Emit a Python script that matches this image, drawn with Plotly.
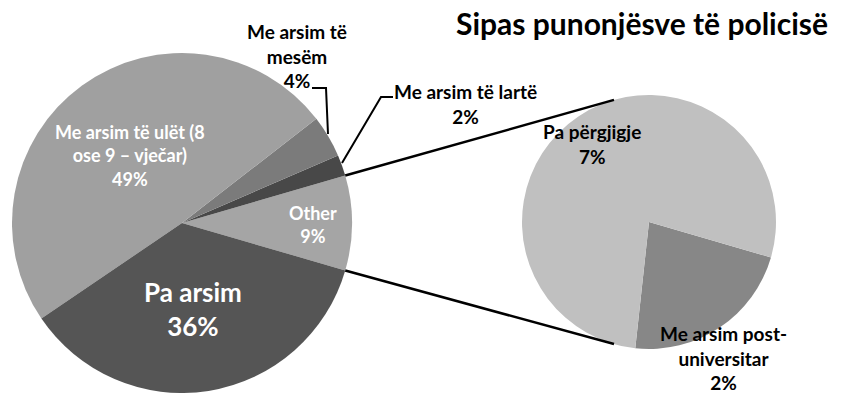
import math
import plotly.graph_objects as go

# Education level of police employees (percent of total)
main_labels = ["Other", "Me arsim të lartë", "Me arsim të mesëm",
               "Me arsim të ulët (8 ose 9 – vječar)", "Pa arsim"]
main_values = [9, 2, 4, 49, 36]
main_colors = ["#a5a5a5", "#484848", "#7b7b7b", "#a0a0a0", "#555555"]

# Breakdown of the "Other" slice
sub_labels = ["Me arsim post-universitar", "Pa përgjigje"]
sub_values = [2, 7]
sub_colors = ["#878787", "#c0c0c0"]

title_text = "Sipas punonjësve të policisë"

W, H = 841, 393
FONT = "Lato"

# pie geometry in pixels (center x, center y from top, radius)
MAIN_C = (182, 223, 170)
SUB_C = (649, 222, 127)


def domain(c):
    cx, cy, r = c
    return dict(x=[(cx - r) / W, (cx + r) / W],
                y=[(H - cy - r) / H, (H - cy + r) / H])


other_share = main_values[0] / sum(main_values)
half = 360 * other_share / 2  # "Other" is centred on the 3 o'clock direction

fig = go.Figure()
# counterclockwise: the first slice lies clockwise of the rotation angle
fig.add_trace(go.Pie(
    labels=main_labels, values=main_values, sort=False,
    direction="counterclockwise", rotation=90 - half,
    marker=dict(colors=main_colors, line=dict(width=0)),
    textinfo="none", hoverinfo="label+percent", showlegend=False,
    domain=domain(MAIN_C),
))
fig.add_trace(go.Pie(
    labels=sub_labels, values=sub_values, sort=False,
    direction="clockwise", rotation=90 + half,
    marker=dict(colors=sub_colors, line=dict(width=0)),
    textinfo="none", hoverinfo="label+value", showlegend=False,
    domain=domain(SUB_C),
))


def px(x, y):
    return x / W, 1 - y / H


def polar(c, deg):
    cx, cy, r = c
    a = math.radians(deg)
    return cx + r * math.cos(a), cy - r * math.sin(a)


# connector lines between the "Other" slice and the breakdown pie
for sgn in (1, -1):
    x0, y0 = polar(MAIN_C, sgn * half)
    x1, y1 = polar(SUB_C, sgn * 106)
    fig.add_shape(type="line", xref="paper", yref="paper",
                  x0=px(x0, y0)[0], y0=px(x0, y0)[1],
                  x1=px(x1, y1)[0], y1=px(x1, y1)[1],
                  line=dict(color="black", width=2.5))

# leader lines for the two thin slices
leader_pts = [
    [(312, 88), (326, 88), (328, 134)],
    [(393, 97), (381, 97), (342, 163)],
]
for pts in leader_pts:
    path = "M " + " L ".join(f"{px(x, y)[0]},{px(x, y)[1]}" for x, y in pts)
    fig.add_shape(type="path", xref="paper", yref="paper", path=path,
                  line=dict(color="black", width=2))


def pct(v):
    return f"{v}%"


annots = [
    # (text, x, y, size, color)
    (f"Me arsim të ulët (8<br>ose 9 – vječar)<br>{pct(main_values[3])}", 130, 155, 18, "white"),
    (f"Pa arsim<br>{pct(main_values[4])}", 193, 309, 26, "white"),
    (f"Other<br>{pct(main_values[0])}", 313, 224, 18, "white"),
    (f"Me arsim të<br>mesëm<br>{pct(main_values[2])}", 297, 56, 19, "black"),
    (f"Me arsim të lartë<br>{pct(main_values[1])}", 466, 104, 19, "black"),
    (f"Pa përgjigje<br>{pct(sub_values[1])}", 592, 144, 19, "black"),
    (f"Me arsim post-<br>universitar<br>{pct(sub_values[0])}", 723, 358, 19, "black"),
]
for text, x, y, size, color in annots:
    ax, ay = px(x, y)
    fig.add_annotation(text=f"<b>{text}</b>", x=ax, y=ay, xref="paper", yref="paper",
                       showarrow=False, xanchor="center", yanchor="middle",
                       font=dict(family=FONT, size=size, color=color))

fig.add_annotation(text=f"<b>{title_text}</b>", x=px(642, 23)[0], y=px(642, 23)[1],
                   xref="paper", yref="paper", showarrow=False,
                   xanchor="center", yanchor="middle",
                   font=dict(family=FONT, size=30, color="black"))

fig.update_layout(width=W, height=H, margin=dict(l=0, r=0, t=0, b=0),
                  paper_bgcolor="white", plot_bgcolor="white",
                  font=dict(family=FONT))

fig.write_html("out.html")
